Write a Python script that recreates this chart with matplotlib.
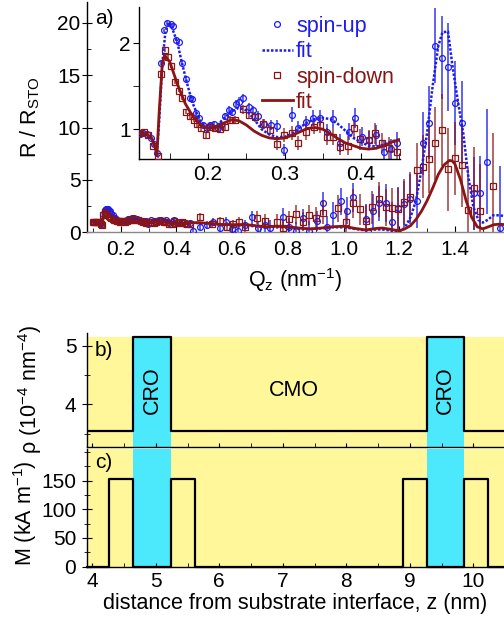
import numpy as np
import matplotlib
matplotlib.use("Agg")
import matplotlib.pyplot as plt
from matplotlib.ticker import MultipleLocator
from matplotlib.lines import Line2D

plt.rcParams['font.family'] = ['Liberation Sans', 'DejaVu Sans']
plt.rcParams['mathtext.fontset'] = 'custom'
plt.rcParams['mathtext.rm'] = 'Liberation Sans'
plt.rcParams['mathtext.it'] = 'Liberation Sans:italic'
plt.rcParams['font.size'] = 15

BLUE = '#1c1cf0'
RED = '#8b1414'
YELLOW = '#fff799'
CYAN = '#4ce8fb'

# spin-up reflectivity (normalised to STO)
q_up = [0.100, 0.105, 0.1105, 0.115, 0.120, 0.125, 0.129, 0.1335, 0.138, 0.1424,
        0.1467, 0.151, 0.1543, 0.1582, 0.162, 0.166, 0.1716, 0.176, 0.1795, 0.1847,
        0.188, 0.1935, 0.198, 0.2025, 0.2079, 0.213, 0.2175, 0.2227, 0.227, 0.2315,
        0.236, 0.240, 0.246, 0.2538, 0.259, 0.2647, 0.2725, 0.282, 0.290, 0.2997,
        0.3097, 0.318, 0.328, 0.3367, 0.346, 0.3556, 0.364, 0.373, 0.384, 0.3927,
        0.4014, 0.411, 0.420, 0.4298, 0.4386, 0.4474,
        0.461, 0.485, 0.511, 0.530, 0.556, 0.578, 0.598, 0.622, 0.646, 0.670,
        0.694, 0.718, 0.736, 0.784, 0.805, 0.829, 0.853, 0.877, 0.904, 0.925,
        0.942, 0.963, 0.990, 1.011, 1.035, 1.081, 1.105, 1.128, 1.152, 1.173,
        1.196, 1.217, 1.238, 1.262, 1.286, 1.307, 1.330, 1.353, 1.376, 1.400,
        1.424, 1.468, 1.490, 1.514, 1.560]
r_up = [0.95, 0.95, 0.947, 0.96, 0.95, 0.90, 0.83, 0.72, 1.77, 2.15,
        2.24, 2.22, 2.20, 2.04, 2.01, 1.77, 1.585, 1.36, 1.35, 1.19,
        1.13, 1.05, 1.01, 1.05, 1.06, 1.01, 1.05, 1.15, 1.22, 1.20,
        1.29, 1.32, 1.36, 1.26, 1.22, 1.155, 1.06, 1.05, 1.04, 0.76,
        1.17, 1.02, 1.08, 1.13, 1.13, 0.97, 1.12, 0.84, 0.97, 1.13,
        0.914, 0.87, 0.93, 0.74, 0.77, 0.84,
        0.10, 0.50, 0.67, 0.93, 0.35, 0.99, 0.29, 0.05, 0.67, 1.40,
        0.41, 0.67, 0.41, 1.47, 0.50, 0.10, 1.31, 0.10, 1.05, 2.75,
        0.45, 1.63, 2.95, 2.04, 3.32, 1.20, 2.00, 2.74, 2.80, 0.99,
        2.27, 2.68, 3.13, 3.00, 8.49, 10.46, 17.83, 16.68, 15.76, 12.32,
        10.46, 3.70, 3.76, 6.73, 0.35]
e_up = [0.02, 0.02, 0.02, 0.02, 0.02, 0.02, 0.02, 0.02, 0.02, 0.02,
        0.02, 0.02, 0.02, 0.02, 0.02, 0.02, 0.03, 0.03, 0.03, 0.03,
        0.03, 0.03, 0.03, 0.04, 0.04, 0.04, 0.04, 0.04, 0.05, 0.05,
        0.05, 0.05, 0.05, 0.05, 0.05, 0.06, 0.06, 0.06, 0.07, 0.07,
        0.09, 0.08, 0.08, 0.09, 0.09, 0.09, 0.10, 0.10, 0.10, 0.12,
        0.11, 0.11, 0.12, 0.12, 0.12, 0.13,
        0.35, 0.35, 0.40, 0.40, 0.40, 0.45, 0.45, 0.50, 0.50, 0.60,
        0.60, 0.70, 0.70, 0.80, 0.80, 0.90, 0.90, 1.00, 1.00, 1.10,
        1.10, 1.20, 1.30, 1.30, 1.40, 1.50, 1.60, 1.70, 1.80, 1.90,
        2.00, 2.20, 2.40, 2.60, 3.00, 3.50, 3.60, 4.00, 4.20, 4.00,
        4.00, 3.50, 3.50, 5.00, 6.00]

# spin-down reflectivity
q_dn = [0.100, 0.105, 0.1105, 0.116, 0.1214, 0.128, 0.1345, 0.138, 0.1433, 0.1476,
        0.152, 0.1572, 0.1616, 0.166, 0.1716, 0.1768, 0.1813, 0.1856, 0.1913, 0.1978,
        0.2025, 0.2096, 0.2153, 0.2219, 0.2285, 0.2358, 0.245, 0.2529, 0.2616, 0.2717,
        0.2813, 0.290, 0.2997, 0.3097, 0.318, 0.3285, 0.338, 0.3468, 0.3556, 0.364,
        0.373, 0.3826, 0.3914, 0.399, 0.410, 0.4189, 0.4277, 0.4363, 0.4474,
        0.485, 0.527, 0.556, 0.583, 0.604, 0.626, 0.648, 0.690, 0.718, 0.760,
        0.781, 0.805, 0.828, 0.853, 0.877, 0.900, 0.925, 0.981, 1.009, 1.033,
        1.059, 1.081, 1.101, 1.128, 1.152, 1.173, 1.196, 1.217, 1.238, 1.262,
        1.286, 1.307, 1.330, 1.353, 1.376, 1.400, 1.424, 1.448, 1.468, 1.490,
        1.537]
r_dn = [0.96, 0.96, 0.96, 0.97, 0.934, 0.81, 0.69, 1.64, 1.92, 1.84,
        1.73, 1.55, 1.45, 1.36, 1.205, 1.155, 1.11, 1.06, 1.01, 0.934,
        1.03, 1.01, 1.00, 1.03, 1.11, 1.11, 1.23, 1.17, 1.14, 1.06,
        0.99, 0.83, 0.934, 0.953, 0.844, 0.97, 1.03, 1.05, 0.914, 0.914,
        0.80, 0.81, 1.01, 0.884, 0.876, 0.953, 0.84, 0.786, 0.74,
        1.47, 0.74, 1.05, 0.50, 0.74, 0.93, 0.50, 1.37, 1.05, 0.99,
        0.41, 1.24, 1.69, 0.99, 1.63, 1.37, 1.85, 2.27, 0.99, 2.75,
        2.17, 1.08, 2.36, 3.13, 2.36, 2.27, 2.17, 2.90, 3.38, 5.93,
        6.25, 6.95, 8.49, 9.76, 6.00, 7.05, 6.41, 2.10, 4.18, 2.04,
        4.43]
e_dn = [0.02, 0.02, 0.02, 0.02, 0.02, 0.02, 0.02, 0.02, 0.02, 0.02,
        0.02, 0.02, 0.02, 0.02, 0.03, 0.03, 0.03, 0.03, 0.03, 0.03,
        0.04, 0.04, 0.04, 0.04, 0.05, 0.05, 0.05, 0.05, 0.06, 0.06,
        0.06, 0.07, 0.08, 0.08, 0.08, 0.09, 0.09, 0.09, 0.10, 0.10,
        0.10, 0.11, 0.11, 0.12, 0.12, 0.12, 0.12, 0.13, 0.13,
        0.35, 0.40, 0.40, 0.45, 0.45, 0.50, 0.50, 0.60, 0.70, 0.75,
        0.80, 0.80, 0.90, 0.90, 1.00, 1.00, 1.10, 1.30, 1.30, 1.40,
        1.50, 1.50, 1.60, 1.70, 1.80, 1.90, 2.00, 2.20, 2.40, 2.60,
        3.00, 3.20, 3.50, 3.40, 4.00, 3.50, 4.00, 4.00, 4.00, 4.50,
        5.00]

# fitted curves
qf_up = [0.100, 0.110, 0.120, 0.126, 0.130, 0.133, 0.136, 0.140, 0.144, 0.148,
         0.152, 0.156, 0.160, 0.165, 0.170, 0.175, 0.180, 0.185, 0.190, 0.195,
         0.200, 0.210, 0.220, 0.230, 0.240, 0.250, 0.260, 0.270, 0.280, 0.290,
         0.300, 0.310, 0.320, 0.330, 0.340, 0.350, 0.360, 0.370, 0.380, 0.390,
         0.400, 0.410, 0.420, 0.430, 0.440, 0.450, 0.480, 0.520, 0.560, 0.600,
         0.640, 0.680, 0.720, 0.760, 0.800, 0.840, 0.880, 0.920, 0.960, 1.000,
         1.040, 1.080, 1.120, 1.150, 1.180, 1.200, 1.220, 1.240, 1.260, 1.280,
         1.300, 1.320, 1.340, 1.355, 1.375, 1.390, 1.410, 1.430, 1.448, 1.466,
         1.484, 1.500, 1.520, 1.537, 1.560, 1.580]
rf_up = [0.95, 0.95, 0.94, 0.90, 0.82, 0.72, 1.10, 1.75, 2.12, 2.24,
         2.20, 2.10, 2.00, 1.80, 1.62, 1.45, 1.30, 1.19, 1.10, 1.05,
         1.02, 1.03, 1.12, 1.20, 1.25, 1.22, 1.12, 1.00, 0.94, 0.91,
         0.91, 0.95, 1.02, 1.08, 1.12, 1.13, 1.12, 1.06, 0.98, 0.90,
         0.85, 0.81, 0.80, 0.82, 0.86, 0.88, 0.85, 0.75, 0.72, 0.62,
         0.65, 0.55, 0.45, 0.50, 0.40, 0.30, 0.28, 0.35, 0.45, 0.45,
         0.30, 0.15, 0.25, 0.22, 0.08, 0.05, 0.40, 1.40, 3.00, 6.00,
         9.50, 14.00, 17.80, 19.10, 19.20, 16.10, 12.60, 9.40, 5.30, 2.40,
         1.15, 0.90, 1.20, 1.60, 1.60, 1.50]

qf_dn = [0.100, 0.110, 0.120, 0.126, 0.130, 0.133, 0.136, 0.140, 0.143, 0.150,
         0.160, 0.170, 0.180, 0.190, 0.200, 0.210, 0.220, 0.230, 0.240, 0.250,
         0.260, 0.270, 0.280, 0.290, 0.300, 0.310, 0.320, 0.330, 0.340, 0.350,
         0.360, 0.370, 0.380, 0.390, 0.400, 0.410, 0.420, 0.430, 0.440, 0.450,
         0.480, 0.520, 0.560, 0.600, 0.640, 0.680, 0.720, 0.760, 0.800, 0.840,
         0.880, 0.920, 0.960, 1.000, 1.040, 1.080, 1.120, 1.140, 1.170, 1.200,
         1.220, 1.240, 1.260, 1.280, 1.300, 1.320, 1.340, 1.360, 1.380, 1.390,
         1.400, 1.420, 1.440, 1.460, 1.480, 1.500, 1.520, 1.540, 1.560, 1.580]
rf_dn = [0.95, 0.95, 0.94, 0.90, 0.82, 0.70, 1.20, 1.75, 1.86, 1.78,
         1.52, 1.30, 1.15, 1.05, 1.01, 1.02, 1.07, 1.11, 1.10, 1.05,
         0.98, 0.93, 0.90, 0.89, 0.90, 0.93, 0.97, 1.01, 1.02, 1.00,
         0.95, 0.89, 0.84, 0.81, 0.78, 0.77, 0.78, 0.81, 0.85, 0.88,
         0.90, 0.82, 0.72, 0.70, 0.72, 0.62, 0.50, 0.55, 0.50, 0.38,
         0.30, 0.38, 0.50, 0.55, 0.35, 0.20, 0.35, 0.38, 0.25, 0.12,
         0.30, 0.60, 1.20, 2.00, 3.00, 4.20, 5.50, 6.40, 6.85, 6.80,
         6.50, 5.00, 3.00, 1.40, 0.50, 0.30, 0.50, 0.70, 0.75, 0.70]

# layer model (z in nm)
cro_start = [4.646, 9.266]
cro_end = [5.234, 9.858]
mag_start = [4.27, 5.234, 8.888, 9.858]
mag_end = [4.646, 5.617, 9.266, 10.236]
rho_cmo = 3.55
rho_cro = 5.15
m_sat = 152
m_ticks = [0, 50, 100, 150]


def step_profile(starts, ends, hi, lo, z0, z1):
    z = [z0]
    v = [lo]
    for s, e in zip(starts, ends):
        z += [s, s, e, e]
        v += [lo, hi, hi, lo]
    z.append(z1)
    v.append(lo)
    return z, v


W, H = 504, 620
fig = plt.figure(figsize=(W / 100, H / 100), dpi=100)


def px(x0, y0, x1, y1):
    # axes rectangle from pixel corners
    return [x0 / W, 1 - y1 / H, (x1 - x0) / W, (y1 - y0) / H]


def style_axes(ax):
    for s in ('top', 'right'):
        ax.spines[s].set_visible(False)
    for s in ('left', 'bottom'):
        ax.spines[s].set_linewidth(1.0)


def plot_data(ax, ms_c=4.2, ms_s=4.6):
    ax.errorbar(q_up, r_up, yerr=e_up, fmt='none', ecolor=BLUE, elinewidth=1.3,
                alpha=0.75, zorder=2)
    ax.errorbar(q_dn, r_dn, yerr=e_dn, fmt='none', ecolor=RED, elinewidth=1.3,
                alpha=0.7, zorder=2)
    ax.plot(q_up, r_up, 'o', ms=ms_c, mfc='none', mec=BLUE, mew=0.9, zorder=3)
    ax.plot(q_dn, r_dn, 's', ms=ms_s, mfc='none', mec=RED, mew=0.9, zorder=3)
    ax.plot(qf_up, rf_up, color=BLUE, lw=1.8, ls=(0, (1.0, 0.7)), zorder=4)
    ax.plot(qf_dn, rf_dn, color=RED, lw=2.0, zorder=4)


# ---- a) main reflectivity
ax = fig.add_axes(px(86.7, 2.1, 504, 232))
style_axes(ax)
ax.spines['bottom'].set_color('#888888')
plot_data(ax)
ax.set_xlim(0.078, 1.576)
ax.set_ylim(0, 22)
ax.xaxis.set_major_locator(MultipleLocator(0.2))
ax.xaxis.set_minor_locator(MultipleLocator(0.1))
ax.yaxis.set_major_locator(MultipleLocator(5))
ax.yaxis.set_minor_locator(MultipleLocator(2.5))
ax.tick_params(axis='x', which='both', direction='in', pad=6, labelsize=15)
ax.tick_params(axis='x', which='major', length=4)
ax.tick_params(axis='x', which='minor', length=3)
ax.tick_params(axis='y', which='major', direction='inout', length=7, pad=1, labelsize=15)
ax.tick_params(axis='y', which='minor', direction='in', length=3)
ax.text(95 / W, 1 - 18 / H, 'a)', transform=fig.transFigure, fontsize=15, va='center', ha='left')

# ---- inset
axi = fig.add_axes(px(139.3, 7, 400, 159))
axi.patch.set_alpha(0)
style_axes(axi)
plot_data(axi)
axi.set_xlim(0.11, 0.451)
axi.set_ylim(0.655, 2.42)
axi.xaxis.set_major_locator(MultipleLocator(0.1))
axi.xaxis.set_minor_locator(MultipleLocator(0.05))
axi.yaxis.set_major_locator(MultipleLocator(1))
axi.yaxis.set_minor_locator(MultipleLocator(0.5))
axi.tick_params(axis='x', which='both', direction='in', length=4, pad=4, labelsize=15)
axi.tick_params(axis='y', which='both', direction='out', length=4, pad=2, labelsize=15)

handles = [Line2D([], [], marker='o', ls='none', ms=4.2, mfc='none', mec=BLUE, mew=0.9),
           Line2D([], [], color=BLUE, lw=1.8, ls=(0, (1.0, 0.7))),
           Line2D([], [], marker='s', ls='none', ms=4.6, mfc='none', mec=RED, mew=0.9),
           Line2D([], [], color=RED, lw=2.0)]
leg = fig.legend(handles, ['spin-up', 'fit', 'spin-down', 'fit'],
                 loc='upper left', bbox_to_anchor=(261.7 / W, 1 - 16 / H),
                 frameon=False, borderpad=0, borderaxespad=0, fontsize=15.5,
                 handlelength=1.45, handletextpad=0.15, labelspacing=0.2)
for t, c in zip(leg.get_texts(), [BLUE, BLUE, RED, RED]):
    t.set_color(c)

fig.text(30 / W, 1 - 117 / H, r'R / R$_{\mathrm{STO}}$', rotation=90, ha='center', va='center', fontsize=15.5)
fig.text(295 / W, 1 - 280 / H, r'Q$_\mathrm{z}$ (nm$^{-1}$)', ha='center', va='center', fontsize=15.5)

# ---- b) nuclear SLD profile
z_lo, z_hi = 3.912, 10.483
axb = fig.add_axes(px(86.7, 333, 504, 447.3))
style_axes(axb)
axb.set_xlim(z_lo, z_hi)
axb.set_ylim(3.266, 5.217)
axb.fill_between([z_lo, z_hi], 3.266, rho_cro, color=YELLOW, lw=0, zorder=0)
for s, e in zip(cro_start, cro_end):
    axb.fill_between([s, e], 3.266, rho_cro, color=CYAN, lw=0, zorder=1)
zr, vr = step_profile(cro_start, cro_end, rho_cro, rho_cmo, z_lo, z_hi)
axb.plot(zr, vr, color='black', lw=1.6, zorder=3)
for s, e in zip(cro_start, cro_end):
    axb.text((s + e) / 2, 4.24, 'CRO', rotation=90, ha='center', va='center', fontsize=15.5)
axb.text(7.17, 4.23, 'CMO', ha='center', va='center', fontsize=15.5)
axb.xaxis.set_major_locator(MultipleLocator(1))
axb.xaxis.set_minor_locator(MultipleLocator(0.5))
axb.yaxis.set_major_locator(MultipleLocator(1))
axb.yaxis.set_minor_locator(MultipleLocator(0.5))
axb.tick_params(axis='x', which='both', direction='in', length=3, labelbottom=False)
axb.tick_params(axis='y', which='major', direction='inout', length=7, pad=4, labelsize=15)
axb.tick_params(axis='y', which='minor', direction='inout', length=4)
axb.text(95 / W, 1 - 350 / H, 'b)', transform=fig.transFigure, fontsize=15, va='center', ha='left')
fig.text(30 / W, 1 - 390 / H, 'ρ (10$^{-4}$ nm$^{-4}$)', rotation=90, ha='center', va='center', fontsize=15.5)

# ---- c) magnetisation profile
axc = fig.add_axes(px(86.7, 449, 504, 566.7))
style_axes(axc)
axc.set_xlim(z_lo, z_hi)
axc.set_ylim(0, 205)
axc.axvspan(z_lo, z_hi, color=YELLOW, lw=0, zorder=0)
for s, e in zip(cro_start, cro_end):
    axc.axvspan(s, e, color=CYAN, lw=0, zorder=1)
zm, vm = step_profile(mag_start, mag_end, m_sat, 0, z_lo, z_hi)
axc.plot(zm, vm, color='black', lw=1.6, zorder=3, clip_on=False)
axc.xaxis.set_major_locator(MultipleLocator(1))
axc.xaxis.set_minor_locator(MultipleLocator(0.5))
axc.set_yticks(m_ticks)
axc.yaxis.set_minor_locator(MultipleLocator(25))
axc.tick_params(axis='x', which='both', direction='in', length=3, pad=4, labelsize=15)
axc.tick_params(axis='y', which='major', direction='inout', length=7, pad=4, labelsize=15)
axc.tick_params(axis='y', which='minor', direction='inout', length=4)
axc.text(95 / W, 1 - 463 / H, 'c)', transform=fig.transFigure, fontsize=15, va='center', ha='left')
fig.text(25 / W, 1 - 513 / H, r'M (kA m$^{-1}$)', rotation=90, ha='center', va='center', fontsize=15.5)
fig.text(295 / W, 1 - 603 / H, 'distance from substrate interface, z (nm)', ha='center', va='center', fontsize=15.5)

fig.savefig('out.png', dpi=100)
